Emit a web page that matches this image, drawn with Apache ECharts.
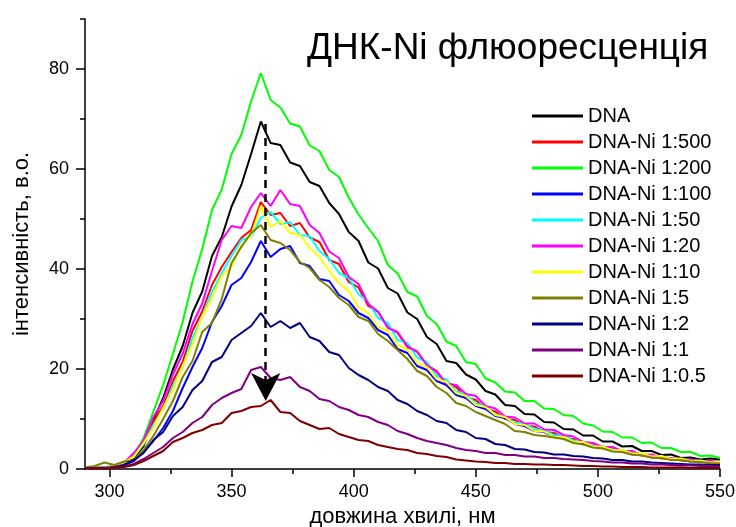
<!DOCTYPE html>
<html>
<head>
<meta charset="utf-8">
<script src="https://cdn.jsdelivr.net/npm/echarts@6/dist/echarts.min.js"></script>
<style>
html,body{margin:0;padding:0;background:#fff;}
#chart{width:736px;height:527px;}
</style>
</head>
<body>
<div id="chart"></div>
<script>
// wavelengths, nm
const wavelength = [290,294,298,302,306,310,314,318,322,326,330,334,338,342,346,350,354,358,362,366,370,374,378,382,386,390,394,398,402,406,410,414,418,422,426,430,434,438,442,446,450,454,458,462,466,470,474,478,482,486,490,494,498,502,506,510,514,518,522,526,530,534,538,542,546,550];

const seriesNames = ['DNA','DNA-Ni 1:500','DNA-Ni 1:200','DNA-Ni 1:100','DNA-Ni 1:50','DNA-Ni 1:20','DNA-Ni 1:10','DNA-Ni 1:5','DNA-Ni 1:2','DNA-Ni 1:1','DNA-Ni 1:0.5'];
const seriesColors = ['#000000','#ff0000','#00ff00','#0000ff','#00ffff','#ff00ff','#ffff00','#808000','#000080','#800080','#800000'];

const dna = [0.1,0.3,0.2,0.6,1.1,2.2,4.6,9.8,14.2,19.9,24.6,31.2,35.5,42.6,46.4,52.5,56.8,63,69.5,65.2,64.8,61.3,60.6,57.4,56.6,53.2,51,47.4,45.6,41.3,40.1,36.2,35.1,31.3,30,26.4,25,21.6,21.2,18.9,17.9,15.6,14.9,12.8,12.6,11,10.9,9.4,9.3,8,7.9,6.7,6.7,5.5,5.5,4.5,4.6,3.6,3.6,2.8,2.9,2.2,2.3,1.9,2.1,1.9];
const ni500 = [0.1,0.2,0.3,0.5,1.2,2.8,5.4,9.4,12.6,17.6,21.4,27.6,31.5,36.8,40.4,43.4,46.2,47.8,53.4,50.8,51.2,48.6,49.2,46.3,45.4,41.8,41,37.4,36.3,32.6,31.4,28.4,27.2,24.4,23.5,20.8,19.6,17,16.4,14.3,13.8,12,11.5,10,9.8,8.6,8.5,7.4,7.2,6.2,6,5.1,4.9,4.2,4,3.4,3.3,2.7,2.6,2.1,2.1,1.7,1.8,1.4,1.5,1.3];
const ni200 = [0.2,0.4,0.3,0.7,1.3,2.8,6.2,11.5,16.8,23,29.4,37.5,44,51.8,55.9,63,66.8,73.5,79.2,73.8,72.3,69.1,68.5,64.7,63.6,59.8,58.4,54.3,50.9,48.2,45.6,40.8,39.1,35.4,34.5,30.6,29,25.5,24.6,21.4,21,18.1,17.3,15.5,15.3,13.6,13.6,12.1,12,10.8,10.6,9.1,8.7,7.5,7.4,6.3,6.3,5.2,5.3,4.2,4.2,3.4,3.4,2.6,2.7,2.2];
const ni100 = [0.1,0.2,0.3,0.4,0.8,1.6,3.4,5.6,8.2,11.6,16.2,20.4,24.2,29.4,32.6,36.8,38.2,41.4,45.6,42.4,44,44.6,41.2,40.6,38,37.6,34.8,33.6,31.2,30.2,27.8,26.8,24,23.2,20.6,19.8,17.6,16.8,14.8,14.2,12.6,12,10.6,10.2,9,8.6,7.6,7.4,6.4,6.2,5.4,5.2,4.4,4.3,3.6,3.5,2.9,2.9,2.3,2.3,1.9,1.8,1.5,1.5,1.2,1.2];
const ni50 = [0.1,0.2,0.3,0.5,1.1,2.6,5,8.8,12,16.6,20.4,26.2,30.4,35.4,39.2,42.6,45.8,46.4,50.2,51.4,49,49.4,46.8,46.6,43.6,42,39.2,38.2,35,33.4,30.2,29.2,25.8,25.2,22.3,21.4,18.6,17.9,15.5,15,13.1,12.6,10.9,10.4,9.3,9,8,7.7,6.8,6.6,5.7,5.5,4.7,4.6,3.9,3.8,3.2,3.1,2.6,2.5,2.1,2,1.7,1.6,1.4,1.3];
const ni20 = [0.1,0.3,0.2,0.6,1.3,3.2,5.7,10.4,13.6,18.9,23.1,29,33.1,39.6,45.8,48.6,48.2,52.4,55.2,52.6,55.8,53,52.6,48.8,47.2,43.5,42.2,38.4,37,33,31.5,28.2,27.4,24.6,23.4,20.8,19.4,17.1,16.8,15,14.6,12.6,12.1,10.5,10.3,9.1,9.1,7.9,7.8,6.8,6.5,5.4,5.2,4.4,4.4,3.6,3.6,2.8,2.9,2.3,2.2,1.8,1.9,1.5,1.6,1.4];
const ni10 = [0.1,0.3,0.2,0.6,1.4,2.4,5.2,8.2,12.2,15.8,20.6,24.8,30.4,34.2,38.6,40.4,44.8,46.6,52.6,48.4,49.6,47.2,46.8,44.2,42.4,39.6,37.2,35.6,32.4,31.2,28.4,27.6,24.8,23.8,21.2,20.4,18,17.4,15.2,14.6,12.8,12.4,10.8,10.4,9,8.8,7.6,7.5,6.4,6.4,5.4,5.4,4.5,4.5,3.7,3.8,3.1,3.1,2.5,2.6,2,2.1,1.6,1.7,1.3,1.4];
const ni5 = [0.3,0.6,1.3,0.8,1.5,1.8,3.8,6.6,10,13.6,18.4,21.6,27.4,29.2,34,41.2,44.4,47.2,48.8,45.8,45.2,43.8,41.4,40.2,37.8,36.4,34.2,32.8,30.4,29.6,27,25.6,23.8,22,19.6,18.6,16.4,15.2,13.2,12.6,11.4,10.6,9.8,9,7.6,7.4,6.8,6.6,6.3,6,5.2,4.9,4.3,4.1,3.5,3.4,2.9,2.7,2.3,2.2,1.8,1.8,1.5,1.4,1.2,1.1];
const ni2 = [0.1,0.2,0.2,0.4,0.8,1.8,3.2,5.8,7.4,10.6,12.4,15.8,17.6,21.4,22.4,25.8,27.2,28.6,31.2,28.4,29.6,28.2,29.2,26.4,25.6,23.4,22.8,20.2,18.8,17.8,16.4,15.6,13.8,13,11.6,10.8,9.6,9.2,7.8,7.4,6.2,6,5,4.8,4,3.9,3.4,3.3,2.9,2.9,2.6,2.5,2.2,2.1,1.8,1.8,1.5,1.5,1.3,1.2,1.1,1,0.9,0.9,0.8,0.8];
const ni1 = [0.1,0.1,0.2,0.3,0.5,1,2,3.2,4.4,6.2,7.4,9.2,10.4,12.8,14.2,15.2,16,19.8,20.4,18.2,17.8,18.4,16.4,15.6,14,13.6,12.4,11.8,10.8,10.4,9.4,8.8,7.6,7,6.2,5.6,5.2,4.8,4.2,3.8,3.6,3.2,3.2,2.8,2.8,2.5,2.5,2.2,2.2,2,1.9,1.8,1.6,1.5,1.3,1.3,1.1,1.1,0.9,0.9,0.8,0.7,0.7,0.6,0.6,0.5];
const ni05 = [0.1,0.1,0.1,0.2,0.4,0.8,1.6,2.6,3.6,5.4,6.2,7.2,7.8,8.8,9.2,11.2,11.6,12.4,12.6,13.8,11.4,11.2,9.6,8.8,8,8.2,7,6.4,5.8,5.6,4.8,4.4,4,3.8,3.2,3,2.6,2.4,1.9,1.7,1.5,1.4,1.2,1.2,1,1,0.9,0.9,0.8,0.8,0.7,0.6,0.6,0.5,0.5,0.4,0.4,0.4,0.3,0.3,0.3,0.3,0.2,0.2,0.2,0.2];

const allValues = [dna, ni500, ni200, ni100, ni50, ni20, ni10, ni5, ni2, ni1, ni05];

// axis ticks
const xMajorTicks = [300,350,400,450,500,550];
const xMinorTicks = [325,375,425,475,525];
const yMajorTicks = [0,20,40,60,80];
const yMinorTicks = [10,30,50,70,90];

// dashed arrow (trend annotation)
const arrowX = 364;
const arrowFrom = 69;
const arrowTo = 13.6;

const FONT = 'Liberation Sans, Arial, sans-serif';

const series = allValues.map((vals, i) => {
  const s = {
    name: seriesNames[i],
    type: 'line',
    xAxisIndex: 0,
    yAxisIndex: 0,
    data: wavelength.map((w, j) => [w, vals[j]]),
    symbol: 'none',
    showSymbol: false,
    smooth: false,
    animation: false,
    lineStyle: { color: seriesColors[i], width: 2 },
    itemStyle: { color: seriesColors[i] },
    emphasis: { disabled: true }
  };
  if (i === 0) {
    s.markLine = {
      silent: true,
      animation: false,
      symbol: ['none', 'arrow'],
      symbolSize: [22, 28],
      label: { show: false },
      emphasis: { disabled: true },
      lineStyle: { color: '#000', type: [8, 6], width: 2.5 },
      data: [[{ coord: [arrowX, arrowFrom] }, { coord: [arrowX, arrowTo] }]]
    };
  }
  return s;
});

const chart = echarts.init(document.getElementById('chart'), null, { renderer: 'canvas' });
chart.setOption({
  backgroundColor: '#ffffff',
  animation: false,
  title: {
    text: 'ДНК-Ni флюоресценція',
    left: 302,
    top: 25,
    textStyle: { fontFamily: FONT, fontSize: 37, fontWeight: 'normal', color: '#000' }
  },
  legend: {
    orient: 'vertical',
    left: 527,
    top: 101,
    icon: 'rect',
    itemWidth: 51,
    itemHeight: 3,
    itemGap: 6,
    data: seriesNames,
    textStyle: { fontFamily: FONT, fontSize: 20, lineHeight: 20, color: '#000' }
  },
  grid: { left: 85, right: 16, top: 19, bottom: 58, containLabel: false, outerBoundsMode: 'none' },
  xAxis: [{
    type: 'value',
    min: 290,
    max: 550,
    position: 'bottom',
    name: 'довжина хвилі, нм',
    nameLocation: 'middle',
    nameGap: 36,
    nameTextStyle: { fontFamily: FONT, fontSize: 22, color: '#000' },
    axisLine: { show: true, onZero: false, lineStyle: { color: '#000', width: 1.5 } },
    axisTick: { show: true, inside: false, length: 8, customValues: xMajorTicks, lineStyle: { color: '#000', width: 1.5 } },
    axisLabel: { show: true, customValues: xMajorTicks, margin: 14, fontFamily: FONT, fontSize: 18, color: '#000' },
    splitLine: { show: false }
  }, {
    type: 'value',
    min: 290,
    max: 550,
    position: 'bottom',
    axisLine: { show: false, onZero: false },
    axisTick: { show: true, inside: false, length: 5, customValues: xMinorTicks, lineStyle: { color: '#000', width: 1.5 } },
    axisLabel: { show: false },
    splitLine: { show: false }
  }],
  yAxis: [{
    type: 'value',
    min: 0,
    max: 90,
    position: 'left',
    name: 'інтенсивність, в.о.',
    nameLocation: 'middle',
    nameGap: 52,
    nameRotate: 90,
    nameTextStyle: { fontFamily: FONT, fontSize: 22, color: '#000' },
    axisLine: { show: true, onZero: false, lineStyle: { color: '#000', width: 1.5 } },
    axisTick: { show: true, inside: false, length: 9, customValues: yMajorTicks, lineStyle: { color: '#000', width: 1.5 } },
    axisLabel: { show: true, customValues: yMajorTicks, margin: 16, fontFamily: FONT, fontSize: 18, color: '#000' },
    splitLine: { show: false }
  }, {
    type: 'value',
    min: 0,
    max: 90,
    position: 'left',
    axisLine: { show: false, onZero: false },
    axisTick: { show: true, inside: false, length: 5, customValues: yMinorTicks, lineStyle: { color: '#000', width: 1.5 } },
    axisLabel: { show: false },
    splitLine: { show: false }
  }],
  series: series
});
</script>
</body>
</html>
